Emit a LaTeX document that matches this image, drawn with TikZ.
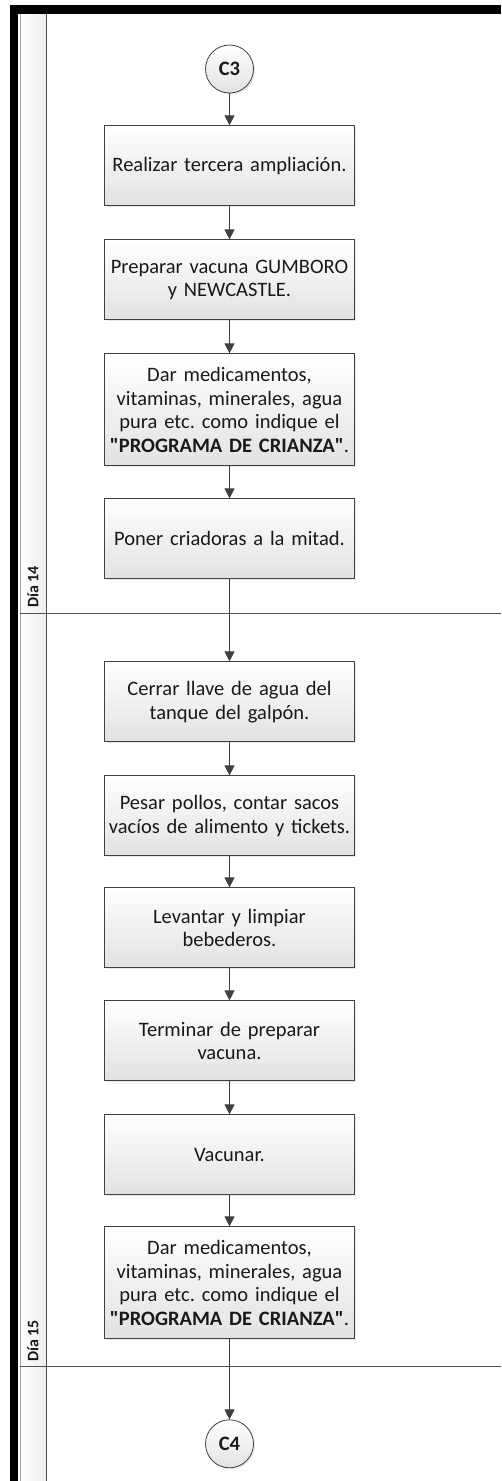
\documentclass[tikz,border=0pt]{standalone}
\usepackage{fontspec}
\setmainfont{Carlito}[Ligatures=TeXOff]
\usepackage{tikz}
\usetikzlibrary{arrows.meta, positioning, shadows}
\definecolor{cLine}{RGB}{64,64,64}
\definecolor{cText}{RGB}{25,25,25}
\definecolor{cFill}{RGB}{226,226,226}
\definecolor{cLane}{RGB}{80,80,80}
\frenchspacing
\tikzset{
	task/.style     ={rectangle, draw=cLine, line width=1pt, top color=white, bottom color=cFill, minimum width=250pt, minimum height=80pt, text width=244pt, inner xsep=3pt, align=center, text=cText, drop shadow={opacity=0.18, shadow xshift=1.5pt, shadow yshift=-1.5pt}},
	conn/.style     ={circle, draw=cLine, line width=0.8pt, top color=white, bottom color=cFill, minimum size=48pt, inner sep=0pt, font=\fontsize{20.5}{24}\selectfont\bfseries, text=cText, drop shadow={opacity=0.18, shadow xshift=1.5pt, shadow yshift=-1.5pt}},
	flow/.style     ={-{Triangle[length=10pt, width=10pt]}, draw=cLine, line width=1pt},
	lanelbl/.style  ={rotate=90, anchor=west, inner sep=0pt, font=\fontsize{16}{18}\selectfont\bfseries, text=cText},
	lanesep/.style  ={draw=cLane, line width=1pt},
}

\begin{document}
\begin{tikzpicture}[x=1pt, y=1pt, font=\fontsize{20.5}{23.7}\selectfont, node distance=33pt]
		\useasboundingbox (0,0) rectangle (501,-1481);
		% pool frame and lane header
		\fill[black] (10,-5) rectangle (501,-14);
		\fill[black] (10,-14) rectangle (18,-1481);
		\shade[left color=white, right color=black!7] (20,-14) rectangle (46,-1481);
		\draw[black!35, line width=0.8pt] (20,-14) -- (20,-1481);
		\draw[cLane, line width=0.8pt] (46,-14) -- (46,-1481);
		\draw[lanesep] (20,-613) -- (501,-613);
		\draw[lanesep] (20,-1366) -- (501,-1366);
		\node[lanelbl] (l14) at (33,-608) {Día 14};
		\node[lanelbl] (l15) at (33,-1362) {Día 15};
		% dia 14
		\node[conn] (c3) at (229.5,-69) {C3};
		\node[task, below=32pt of c3] (amp) {Realizar tercera ampliación.};
		\node[task, below=of amp] (prep) {Preparar vacuna GUMBORO\\ y NEWCASTLE.};
		\node[task, below=of prep, minimum height=112pt] (med1) {Dar medicamentos,\\ vitaminas, minerales, agua\\ pura etc. como indique el\\ \textbf{"PROGRAMA DE CRIANZA"}.};
		\node[task, below=32pt of med1] (cria) {Poner criadoras a la mitad.};
		% dia 15
		\node[task, below=82pt of cria] (llave) {Cerrar llave de agua del\\ tanque del galpón.};
		\node[task, below=of llave] (pesar) {Pesar pollos, contar sacos\\ vacíos de alimento y tickets.};
		\node[task, below=31pt of pesar] (beb) {Levantar y limpiar\\ bebederos.};
		\node[task, below=32pt of beb] (term) {Terminar de preparar\\ vacuna.};
		\node[task, below=of term] (vac) {Vacunar.};
		\node[task, below=31pt of vac, minimum height=112pt] (med2) {Dar medicamentos,\\ vitaminas, minerales, agua\\ pura etc. como indique el\\ \textbf{"PROGRAMA DE CRIANZA"}.};
		\node[conn, below=80pt of med2] (c4) {C4};
		\draw[flow] (c3) -- (amp);
		\draw[flow] (amp) -- (prep);
		\draw[flow] (prep) -- (med1);
		\draw[flow] (med1) -- (cria);
		\draw[flow] (cria) -- (llave);
		\draw[flow] (llave) -- (pesar);
		\draw[flow] (pesar) -- (beb);
		\draw[flow] (beb) -- (term);
		\draw[flow] (term) -- (vac);
		\draw[flow] (vac) -- (med2);
		\draw[flow] (med2) -- (c4);
\end{tikzpicture}
\end{document}
